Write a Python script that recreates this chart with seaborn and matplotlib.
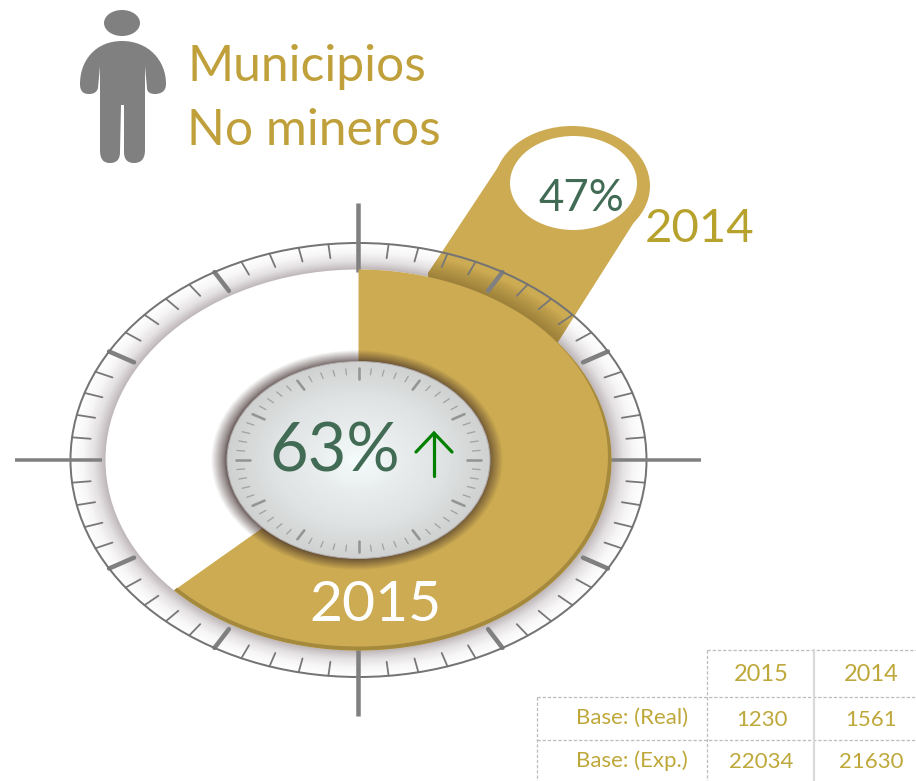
import numpy as np
import pandas as pd
import seaborn as sns
import matplotlib.pyplot as plt
from matplotlib.patches import Ellipse, Polygon, PathPatch
from matplotlib.path import Path

# values
title_lines = ['Municipios', 'No mineros']
pct_2015 = 63
pct_2014 = 47
year_now = '2015'
year_prev = '2014'
table_cols = ['2015', '2014']
table_rows = ['Base: (Real)', 'Base: (Exp.)']
base_real = [1230, 1561]
base_exp = [22034, 21630]

GOLD = '#ccab52'
TEXT_GOLD = '#c0a03a'
GREEN_TEXT = '#426b55'
GRAY = '#808080'

sns.set_theme(style='white')
plt.rcParams['font.family'] = ['Lato', 'DejaVu Sans']

fig = plt.figure(figsize=(9.16, 7.81), dpi=100)
ax = fig.add_axes([0, 0, 1, 1])

cx, cy = 358.5, 460
ring_rx, ring_ry = 288, 217
face_rx, face_ry = 253, 190.5
dial_rx, dial_ry = 131.5, 98.5


def px(w):
    return w * 72 / 100


def ell_xy(theta, rx, ry):
    t = np.radians(theta)
    return cx + rx * np.sin(t), cy - ry * np.cos(t)


def draw_ticks(ticks, r_out, r_in, rx, ry, width, color, z):
    rows = []
    for i in ticks:
        theta = i * 6
        x0, y0 = ell_xy(theta, rx * r_out, ry * r_out)
        x1, y1 = ell_xy(theta, rx * r_in, ry * r_in)
        rows.append({'tick': i, 'x': x0, 'y': y0})
        rows.append({'tick': i, 'x': x1, 'y': y1})
    sns.lineplot(data=pd.DataFrame(rows), x='x', y='y', units='tick', estimator=None,
                 sort=False, color=color, lw=px(width), zorder=z, legend=False, ax=ax)


# outer ring gradient
ring_cols = sns.blend_palette(['#ffffff', '#f8f7f7', '#e4e1e2', '#bdb5b8'], 36)
for i, c in enumerate(ring_cols):
    k = i / (len(ring_cols) - 1)
    ax.add_patch(Ellipse((cx, cy), 2 * (ring_rx + (face_rx - ring_rx) * k),
                         2 * (ring_ry + (face_ry - ring_ry) * k),
                         fc=c, ec='none', zorder=1))
ax.add_patch(Ellipse((cx, cy), 2 * face_rx, 2 * face_ry, fc='white', ec='none', zorder=1.5))

# callout for last year
ax.add_patch(Ellipse((572, 186), 156, 120, fc=GOLD, ec='none', zorder=2))
callout = Polygon([(504, 158), (428, 273), (430, 330), (558, 342), (643, 208), (640, 170)],
                  closed=True, fc=GOLD, ec='none', zorder=2)
ax.add_patch(callout)
ax.add_patch(Ellipse((573.5, 183), 127, 94, fc='white', ec='none', zorder=3))
for k in np.linspace(0, 1, 14):
    e = Ellipse((cx, cy), 2 * (face_rx + 26 * (1 - k)), 2 * (face_ry + 20 * (1 - k)),
                fc='#5c4a20', ec='none', alpha=0.035, zorder=2.5)
    ax.add_patch(e)
    e.set_clip_path(callout)

# ticks of the outer ring and the cross
minor = [i for i in range(60) if i % 5 != 0]
major = [i for i in range(60) if i % 5 == 0 and i % 15 != 0]
draw_ticks(minor, 1.0, 0.935, ring_rx, ring_ry, 1.8, '#787878', 4)
draw_ticks(major, 1.0, 0.90, ring_rx, ring_ry, 4.5, GRAY, 4)
ax.add_patch(Ellipse((cx, cy), 2 * ring_rx, 2 * ring_ry, fc='none', ec='#747474', lw=px(2), zorder=4))
ax.plot([358, 358], [203, 272], color=GRAY, lw=px(4.5), solid_capstyle='butt', zorder=4)
ax.plot([358, 358], [648, 716], color=GRAY, lw=px(4.5), solid_capstyle='butt', zorder=4)
ax.plot([15, 102], [460, 460], color=GRAY, lw=px(3.5), solid_capstyle='butt', zorder=4)
ax.plot([610, 701], [460, 460], color=GRAY, lw=px(3.5), solid_capstyle='butt', zorder=4)

# wedge for this year, clockwise from twelve o'clock
end_angle = 360 * pct_2015 / 100
theta = np.linspace(0, end_angle, 300)
wx, wy = ell_xy(theta, face_rx, face_ry)
ax.fill(np.r_[cx, wx], np.r_[cy, wy], fc=GOLD, ec='none', zorder=5)
rim = 4 * np.clip((theta - 45) / 50, 0, 1)
ix, iy = ell_xy(theta, face_rx - rim, face_ry - rim)
ax.fill(np.r_[wx, ix[::-1]], np.r_[wy, iy[::-1]], fc='#a58a3e', ec='none', zorder=5.1)

# shadow under the centre dial
for k in np.linspace(0, 1, 24):
    grow = 14 * (1 - k) ** 1.8
    ax.add_patch(Ellipse((cx - 1.5, cy), 2 * (dial_rx + grow), 2 * (dial_ry + grow * 0.8),
                         fc='#3e2c2a', ec='none', alpha=0.05, zorder=6))

# centre dial
dial_cols = sns.blend_palette(['#d0d1d1', '#dfe2e2', '#e8ecec', '#f4fbfb'], 40)
for i, c in enumerate(dial_cols):
    k = 1 - i / len(dial_cols)
    ax.add_patch(Ellipse((cx, cy), 2 * dial_rx * k, 2 * dial_ry * k, fc=c, ec='none', zorder=7))
ax.add_patch(Ellipse((cx, cy), 2 * dial_rx, 2 * dial_ry, fc='none', ec='#b0aaaa', lw=px(1), zorder=7))
draw_ticks([i for i in range(60) if i % 5 != 0], 0.93, 0.87, dial_rx, dial_ry, 1.3, '#a2a2a2', 8)
draw_ticks([i for i in range(60) if i % 5 == 0], 0.93, 0.825, dial_rx, dial_ry, 2.6, '#949494', 8)

ax.text(335, 472, f'{pct_2015}%', color=GREEN_TEXT, fontsize=48, ha='center', va='baseline', zorder=9)
ax.plot([434, 434], [476, 434], color='#008000', lw=px(3.2), solid_capstyle='round', zorder=9)
ax.plot([416, 434, 452], [452, 433, 452], color='#008000', lw=px(3.2),
        solid_capstyle='round', solid_joinstyle='miter', zorder=9)
ax.text(375, 621, year_now, color='white', fontsize=41, ha='center', va='baseline', zorder=9)
ax.text(581, 211, f'{pct_2014}%', color=GREEN_TEXT, fontsize=31.5, ha='center', va='baseline', zorder=9)
ax.text(700, 242, year_prev, color='#b8a22e', fontsize=34, ha='center', va='baseline', zorder=9)

# person icon
verts = [(122, 41),
         (148, 41), (166, 60), (166, 84),
         (166, 92), (160, 94), (155, 94),
         (150, 94), (147, 92), (147, 88),
         (145, 66), (145, 150),
         (145, 160), (140, 163), (134, 163),
         (128, 163), (124, 160), (124, 152),
         (124, 105), (121, 105), (120, 152),
         (120, 160), (116, 163), (110, 163),
         (104, 163), (100, 160), (100, 150),
         (100, 66), (98, 88),
         (97, 92), (94, 94), (89, 94),
         (84, 94), (80, 92), (80, 84),
         (80, 60), (96, 41), (122, 41)]
codes = [Path.MOVETO] + [Path.CURVE4] * 9 + [Path.LINETO] * 2 + [Path.CURVE4] * 6 \
    + [Path.LINETO] * 3 + [Path.CURVE4] * 6 + [Path.LINETO] * 2 + [Path.CURVE4] * 9
ax.add_patch(PathPatch(Path(verts, codes), fc=GRAY, ec='none', zorder=3))
ax.add_patch(Ellipse((122, 23), 36, 26, fc=GRAY, ec='none', zorder=3))

ax.text(187, 81, title_lines[0], color=TEXT_GOLD, fontsize=35.8, va='baseline')
ax.text(187, 145, title_lines[1], color=TEXT_GOLD, fontsize=35.8, va='baseline')

# small table
dash = dict(color='#bdbdbd', lw=px(1.3), ls=(0, (2.5, 1.5)), zorder=3)
ax.plot([707, 916], [650, 650], **dash)
ax.plot([537, 916], [697, 697], **dash)
ax.plot([537, 916], [740, 740], **dash)
ax.plot([537, 537], [697, 781], **dash)
ax.plot([707, 707], [650, 781], **dash)
ax.plot([814, 814], [650, 781], color='#d9d9d9', lw=px(2.2), zorder=3)
col_x = [761.5, 871.5]
TABLE_TEXT = '#bfa83a'
for x, c, r, e in zip(col_x, table_cols, base_real, base_exp):
    ax.text(x, 681, c, color=TABLE_TEXT, fontsize=17, ha='center', va='baseline')
    ax.text(x, 726, str(r), color=TABLE_TEXT, fontsize=16, ha='center', va='baseline')
    ax.text(x, 768, str(e), color=TABLE_TEXT, fontsize=16, ha='center', va='baseline')
ax.text(688, 724, table_rows[0], color=TABLE_TEXT, fontsize=16, ha='right', va='baseline')
ax.text(688, 767, table_rows[1], color=TABLE_TEXT, fontsize=16, ha='right', va='baseline')

ax.set_xlim(0, 916)
ax.set_ylim(781, 0)
ax.axis('off')
fig.savefig('out.png', dpi=100, facecolor='white')
